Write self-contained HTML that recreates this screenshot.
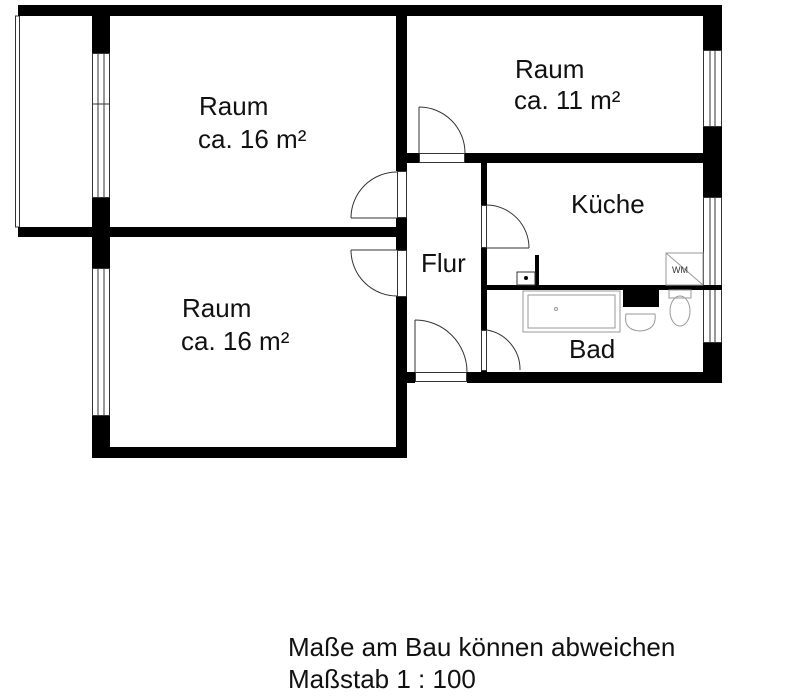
<!DOCTYPE html>
<html><head><meta charset="utf-8"><style>
html,body{margin:0;padding:0;background:#fff;}
svg{display:block;}
text{font-family:"Liberation Sans",Arial,sans-serif;fill:#111;}
</style></head><body>
<svg width="800" height="697" viewBox="0 0 800 697" xmlns="http://www.w3.org/2000/svg">
<rect x="15.5" y="16" width="4" height="211" fill="none" stroke="#333" stroke-width="1"/>
<rect x="18" y="5" width="704" height="11" fill="#000"/>
<rect x="92" y="16" width="18" height="37" fill="#000"/>
<rect x="92" y="197" width="18" height="71" fill="#000"/>
<rect x="92" y="415" width="18" height="43" fill="#000"/>
<g fill="none" stroke="#333" stroke-width="1">
<rect x="92.5" y="53.5" width="17" height="144"/>
<line x1="98" y1="53" x2="98" y2="197"/><line x1="104" y1="53" x2="104" y2="197"/>
<line x1="92" y1="104" x2="110" y2="104"/>
<rect x="92.5" y="268.5" width="17" height="147"/>
<line x1="98" y1="268" x2="98" y2="415"/><line x1="104" y1="268" x2="104" y2="415"/>
</g>
<rect x="18" y="227" width="389" height="10" fill="#000"/>
<rect x="92" y="447" width="315" height="11" fill="#000"/>
<rect x="396" y="16" width="11" height="155" fill="#000"/>
<rect x="396" y="218" width="11" height="32" fill="#000"/>
<rect x="396" y="296" width="11" height="162" fill="#000"/>
<g fill="none" stroke="#333" stroke-width="1">
<rect x="397.5" y="171.5" width="9" height="46"/>
<rect x="397.5" y="250.5" width="9" height="46"/>
<path d="M397 172 A46 46 0 0 0 351 218"/>
<line x1="351" y1="218" x2="397" y2="218"/>
<path d="M397 296 A46 46 0 0 1 351 250"/>
<line x1="351" y1="250" x2="397" y2="250"/>
</g>
<rect x="407" y="153" width="12" height="10" fill="#000"/>
<rect x="465" y="153" width="257" height="10" fill="#000"/>
<g fill="none" stroke="#333" stroke-width="1">
<rect x="419.5" y="153.5" width="45" height="9"/>
<path d="M419 107 A46 46 0 0 1 465 153"/>
<line x1="419" y1="107" x2="419" y2="153"/>
</g>
<rect x="703" y="16" width="19" height="34" fill="#000"/>
<rect x="703" y="127" width="19" height="70" fill="#000"/>
<rect x="703" y="343" width="19" height="40" fill="#000"/>
<g fill="none" stroke="#333" stroke-width="1">
<rect x="703.5" y="50.5" width="18" height="76"/>
<line x1="710" y1="50" x2="710" y2="127"/><line x1="715" y1="50" x2="715" y2="127"/>
<rect x="703.5" y="197.5" width="18" height="145"/>
<line x1="710" y1="197" x2="710" y2="343"/><line x1="715" y1="197" x2="715" y2="343"/>
</g>
<rect x="481" y="163" width="6" height="42" fill="#000"/>
<rect x="481" y="248" width="6" height="82" fill="#000"/>
<rect x="481" y="370" width="6" height="5" fill="#000"/>
<g fill="none" stroke="#333" stroke-width="1">
<rect x="481.5" y="205.5" width="5" height="42"/>
<rect x="481.5" y="330.5" width="5" height="40"/>
<path d="M487 205 A43 43 0 0 1 529 248"/><line x1="487" y1="248" x2="529" y2="248"/>
<path d="M487 330 A40 40 0 0 1 520 370"/>
</g>
<rect x="487" y="285" width="235" height="5" fill="#000"/>
<rect x="535" y="255" width="4" height="30" fill="#000"/>
<rect x="517" y="272" width="18" height="13" fill="#fff" stroke="#333"/>
<circle cx="526" cy="278" r="2" fill="#000"/>
<rect x="623" y="290" width="36" height="17" fill="#000"/>
<g fill="none" stroke="#999" stroke-width="1">
<rect x="666" y="253" width="37" height="32"/>
<line x1="666" y1="253" x2="703" y2="285"/>
<rect x="523" y="291" width="97" height="41"/>
<rect x="528" y="295" width="87" height="33"/>
<circle cx="556" cy="309" r="1.5"/>
<path d="M626 314 Q623 330 640 331 Q657 330 655 314 Z"/>
<rect x="669" y="290" width="22" height="8"/>
<ellipse cx="680" cy="311" rx="10" ry="15"/>
</g>
<text x="672" y="273" font-size="9" style="fill:#333">WM</text>
<rect x="396" y="372" width="19" height="11" fill="#000"/>
<rect x="467" y="372" width="255" height="11" fill="#000"/>
<g fill="none" stroke="#333" stroke-width="1">
<rect x="415.5" y="372.5" width="51" height="9"/>
<path d="M415 320 A52 52 0 0 1 467 372"/>
<line x1="415" y1="320" x2="415" y2="372"/>
</g>
<g font-size="26">
<text x="199" y="115">Raum</text>
<text x="198" y="148">ca. 16 m²</text>
<text x="182" y="317">Raum</text>
<text x="181" y="350">ca. 16 m²</text>
<text x="515" y="78">Raum</text>
<text x="514" y="109">ca. 11 m²</text>
<text x="571" y="213">Küche</text>
<text x="421" y="272">Flur</text>
<text x="569" y="358">Bad</text>
<text x="288" y="656">Maße am Bau können abweichen</text>
<text x="288" y="688">Maßstab 1 : 100</text>
</g>
</svg>
</body></html>
